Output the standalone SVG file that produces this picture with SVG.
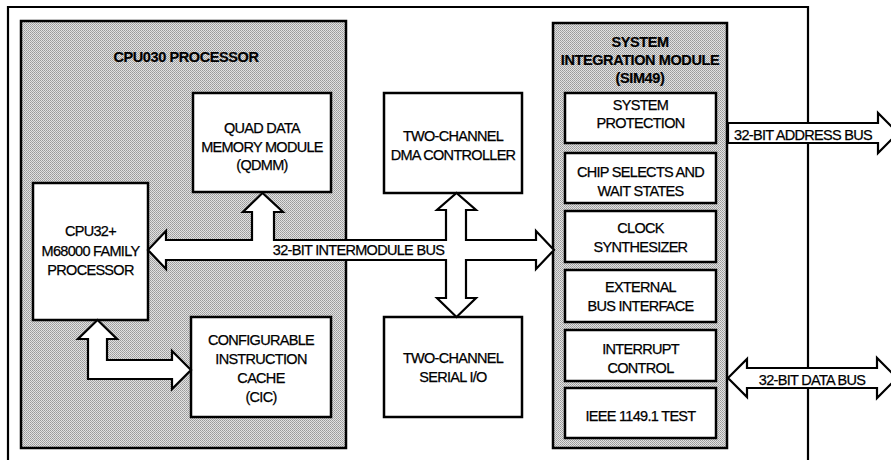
<svg xmlns="http://www.w3.org/2000/svg" width="891" height="460" viewBox="0 0 891 460">
<defs>
<pattern id="dither" width="2" height="2" patternUnits="userSpaceOnUse">
<rect width="2" height="2" fill="#e2e2e2"/>
<rect width="1" height="1" fill="#9a9a9a"/>
<rect x="1" y="1" width="1" height="1" fill="#a8a8a8"/>
</pattern>
</defs>
<style>
.frame{fill:none;stroke:#000;stroke-width:2.2}
.shade{fill:url(#dither);stroke:#000;stroke-width:2.5}
.box{fill:#fff;stroke:#000;stroke-width:2.5}
.arrow{fill:#fff;stroke:#000;stroke-width:2.2;stroke-linejoin:miter}
text{font-family:"Liberation Sans",Arial,sans-serif;font-size:14.5px;letter-spacing:-0.7px;fill:#000;stroke:#000;stroke-width:0.25;text-anchor:middle}
.b{font-weight:bold;letter-spacing:-0.4px;stroke-width:0.2}
</style>
<rect width="891" height="460" fill="#fff"/>
<path class="frame" d="M8,460 V7 H808 V460"/>
<g id="cpu030">
<rect class="shade" x="21" y="21" width="325" height="427"/>
<text class="b" x="186" y="62">CPU030 PROCESSOR</text>
</g>
<g id="sim49">
<rect class="shade" x="553" y="23" width="174" height="425"/>
<text class="b" x="640" y="47">SYSTEM</text>
<text class="b" x="640" y="65">INTEGRATION MODULE</text>
<text class="b" x="640" y="83">(SIM49)</text>
</g>
<g id="qdmm">
<rect class="box" x="193" y="93" width="138" height="99"/>
<text x="262" y="133">QUAD DATA</text>
<text x="262" y="151.5">MEMORY MODULE</text>
<text x="262" y="170">(QDMM)</text>
</g>
<g id="cpu32">
<rect class="box" x="33" y="183" width="115" height="137"/>
<text x="90.5" y="236">CPU32+</text>
<text x="90.5" y="255.5">M68000 FAMILY</text>
<text x="90.5" y="275">PROCESSOR</text>
</g>
<g id="cic">
<rect class="box" x="191" y="317" width="140" height="100"/>
<text x="261" y="345">CONFIGURABLE</text>
<text x="261" y="364">INSTRUCTION</text>
<text x="261" y="383">CACHE</text>
<text x="261" y="402">(CIC)</text>
</g>
<g id="dma">
<rect class="box" x="384" y="93" width="138" height="100"/>
<text x="453" y="141">TWO-CHANNEL</text>
<text x="453" y="160">DMA CONTROLLER</text>
</g>
<g id="serial">
<rect class="box" x="384" y="317" width="138" height="100"/>
<text x="453" y="363">TWO-CHANNEL</text>
<text x="453" y="382">SERIAL I/O</text>
</g>
<g id="sysprot">
<rect class="box" x="565" y="93" width="151" height="50"/>
<text x="640.5" y="110">SYSTEM</text>
<text x="640.5" y="128">PROTECTION</text>
</g>
<g id="chipsel">
<rect class="box" x="565" y="153" width="151" height="50"/>
<text x="640.5" y="177">CHIP SELECTS AND</text>
<text x="640.5" y="196">WAIT STATES</text>
</g>
<g id="clock">
<rect class="box" x="565" y="211" width="151" height="51"/>
<text x="640.5" y="233">CLOCK</text>
<text x="640.5" y="252">SYNTHESIZER</text>
</g>
<g id="ebi">
<rect class="box" x="565" y="270" width="151" height="52"/>
<text x="640.5" y="292">EXTERNAL</text>
<text x="640.5" y="311">BUS INTERFACE</text>
</g>
<g id="interrupt">
<rect class="box" x="565" y="330" width="151" height="51"/>
<text x="640.5" y="354">INTERRUPT</text>
<text x="640.5" y="373">CONTROL</text>
</g>
<g id="ieee">
<rect class="box" x="565" y="388" width="151" height="50"/>
<text x="640.5" y="421">IEEE 1149.1 TEST</text>
</g>
<g id="connectors">
<polygon class="arrow" points="148,250 166,231 166,240 252,240 252,212 243,212 262.5,193 283,212 274,212 274,240 446,240 446,210 437,210 456.5,193 476,210 466,210 466,240 536,240 536,231 554,250 536,269 536,260 466,260 466,298 476,298 456.5,317 437,298 446,298 446,260 166,260 166,269"/>
<text x="358.5" y="255">32-BIT INTERMODULE BUS</text>
<polygon class="arrow" points="97.5,320 117,339 107,339 107,360 172,360 172,351 191,370 172,389 172,379 88,379 88,339 78,339"/>
<polygon class="arrow" points="728,123 878,123 878,113 898,133 878,153 878,143 728,143"/>
<text x="803" y="139.5">32-BIT ADDRESS BUS</text>
<polygon class="arrow" points="728,378 747,359 747,368 877,368 877,358 897,378 877,398 877,388 747,388 747,397"/>
<text x="812" y="385">32-BIT DATA BUS</text>
</g>
</svg>
